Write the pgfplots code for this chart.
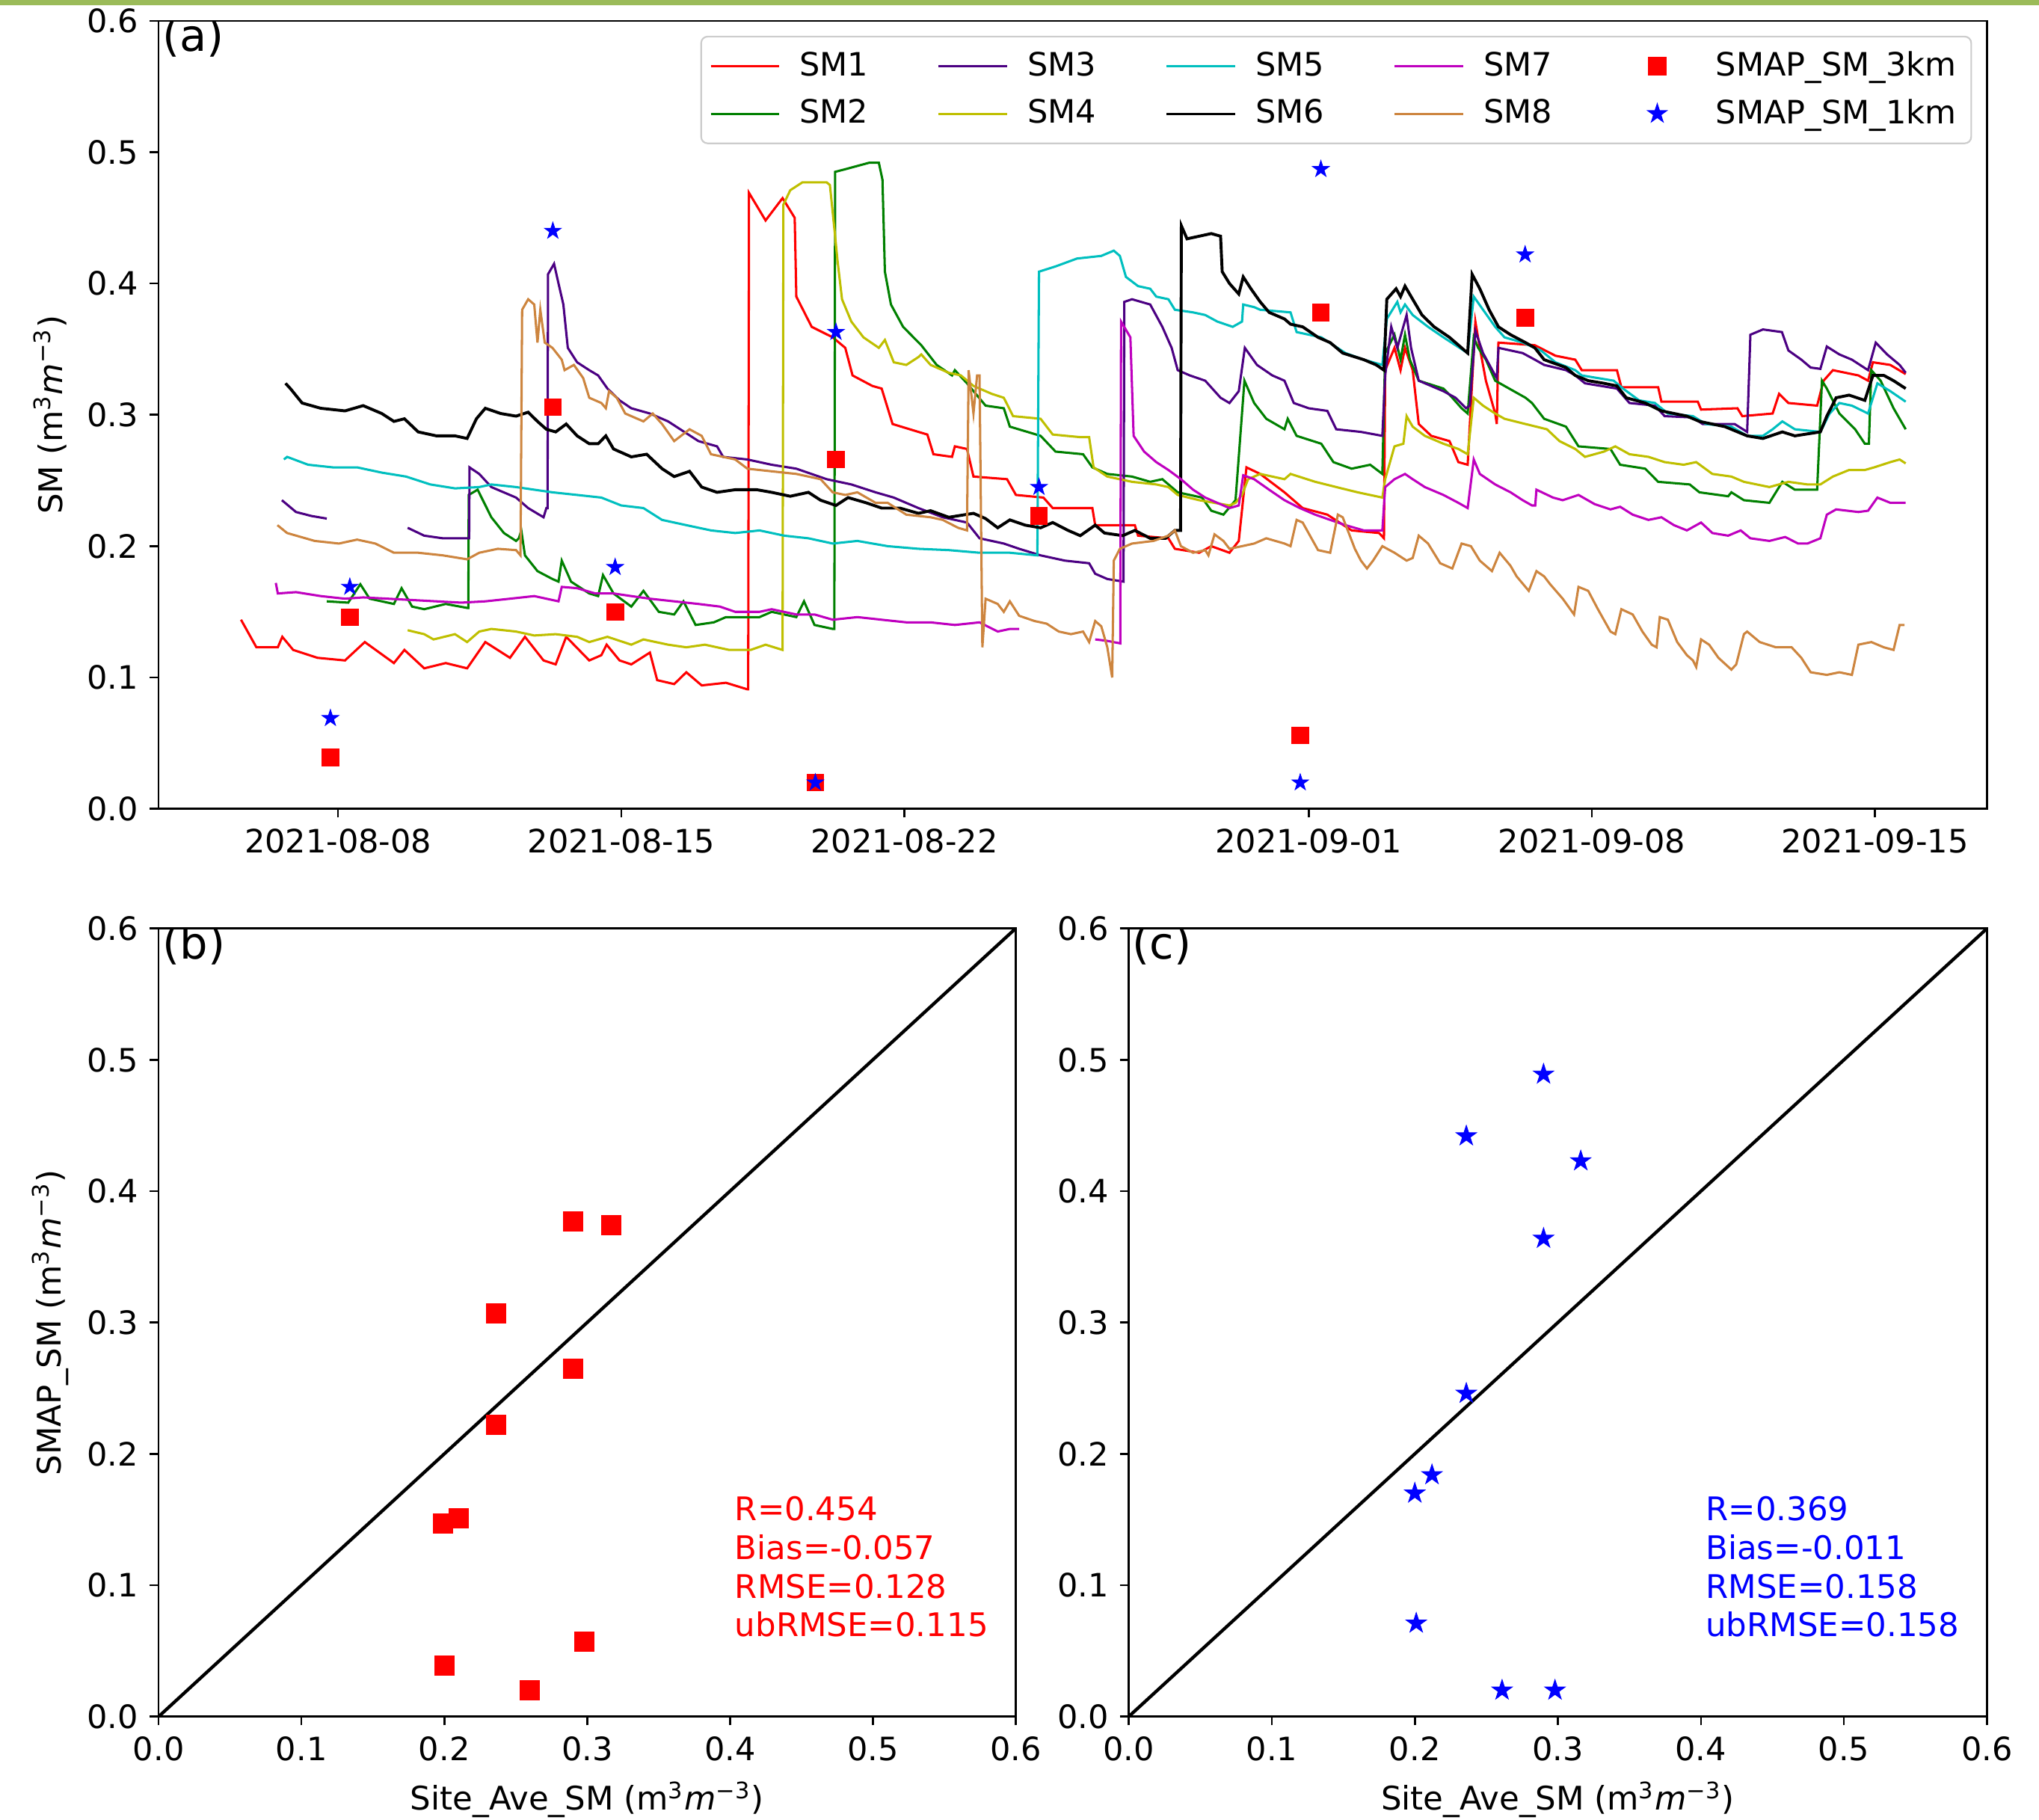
\documentclass[border=0pt]{standalone}
\usepackage{pgfplots}
\pgfplotsset{compat=1.18}
\usepackage{fontspec}
\setmainfont{DejaVu Sans}
\definecolor{mpg}{rgb}{0,0.5,0}
\definecolor{mpy}{rgb}{0.75,0.75,0}
\definecolor{mpc}{rgb}{0,0.75,0.75}
\definecolor{mpm}{rgb}{0.75,0,0.75}
\definecolor{indigo}{rgb}{0.294,0,0.51}
\definecolor{peru}{rgb}{0.804,0.522,0.247}
\definecolor{topbar}{RGB}{155,187,89}
\definecolor{legedge}{RGB}{204,204,204}

\pgfdeclareplotmark{fstar}{%
  \pgfpathmoveto{\pgfpointpolar{90}{\pgfplotmarksize}}%
  \pgfpathlineto{\pgfpointpolar{126}{0.382\pgfplotmarksize}}%
  \pgfpathlineto{\pgfpointpolar{162}{\pgfplotmarksize}}%
  \pgfpathlineto{\pgfpointpolar{198}{0.382\pgfplotmarksize}}%
  \pgfpathlineto{\pgfpointpolar{234}{\pgfplotmarksize}}%
  \pgfpathlineto{\pgfpointpolar{270}{0.382\pgfplotmarksize}}%
  \pgfpathlineto{\pgfpointpolar{306}{\pgfplotmarksize}}%
  \pgfpathlineto{\pgfpointpolar{342}{0.382\pgfplotmarksize}}%
  \pgfpathlineto{\pgfpointpolar{18}{\pgfplotmarksize}}%
  \pgfpathlineto{\pgfpointpolar{54}{0.382\pgfplotmarksize}}%
  \pgfpathclose
  \pgfusepathqfillstroke
}

\pgfplotsset{
  myaxis/.style={
    scale only axis, anchor=south west,
    axis line style={line width=0.6pt},
    tick align=outside, xtick pos=bottom, ytick pos=left,
    major tick length=2.7pt,
    every tick/.style={black, line width=0.6pt},
    tick label style={font=\fontsize{9.9}{11.8}\selectfont},
    label style={font=\fontsize{12.2}{14.6}\selectfont},
    ymin=0, ymax=0.6,
    ytick={0,0.1,0.2,0.3,0.4,0.5,0.6},
    yticklabels={0.0,0.1,0.2,0.3,0.4,0.5,0.6},
  },
  mylinelegend/.style={legend image code/.code={\draw[##1] (0pt,0pt) -- (21pt,0pt);}},
  mymarklegend/.style={legend image code/.code={\path[draw=none,fill=none] (0pt,-1pt) rectangle (23pt,1pt);\draw[##1] plot coordinates {(11pt,0pt)};}},
  sm/.style={line width=0.7pt, forget plot},
}

\begin{document}
\begin{tikzpicture}
\useasboundingbox (0,0) rectangle (627.2pt,559.6pt);
\fill[topbar] (0pt,557.9pt) rectangle (627.2pt,559.6pt);

% ---------------- (a) ----------------
\begin{axis}[myaxis,
  at={(48.8pt,310.8pt)}, width=562.4pt, height=242.4pt,
  xmin=2.563, xmax=47.77,
  xtick={7,14,21,31,38,45},
  xticklabels={2021-08-08,2021-08-15,2021-08-22,2021-09-01,2021-09-08,2021-09-15},
  unbounded coords=jump,
  every axis y label/.style={at={(axis description cs:-0.0526,0.5)}, rotate=90, anchor=base},
  ylabel={SM (m\textsuperscript{3}\textit{m}\textsuperscript{−3})},
  legend columns=5,
  legend cell align=left,
  legend style={at={(1,1)}, anchor=north east, xshift=-4.6pt, yshift=-4.6pt,
    draw=legedge, line width=0.5pt, rounded corners=2pt, fill=white,
    font=\fontsize{9.9}{11.8}\selectfont, inner sep=2.6pt, row sep=1.6pt,
    /tikz/every odd column/.append style={column sep=4pt},
    /tikz/every even column/.append style={column sep=19.3pt}},
]
% SM1
\addplot[sm, red] coordinates {
(4.60,0.144)(4.98,0.123)(5.51,0.123)(5.62,0.131)(5.89,0.121)(6.49,0.115)(7.17,0.113)(7.66,0.127)(8.38,0.111)(8.64,0.121)(9.13,0.107)(9.66,0.111)(10.19,0.107)(10.64,0.127)(11.25,0.115)(11.62,0.131)(12.08,0.113)(12.38,0.110)(12.64,0.131)(13.21,0.113)(13.51,0.117)(13.64,0.125)(13.96,0.113)
(14.25,0.110)(14.71,0.119)(14.89,0.098)(15.31,0.095)(15.61,0.104)(15.99,0.094)(16.59,0.096)(17.12,0.091)(17.14,0.091)(17.16,0.469)(17.57,0.448)(17.99,0.465)(18.29,0.450)(18.33,0.390)(18.71,0.367)(19.23,0.359)(19.54,0.351)(19.72,0.330)(20.21,0.322)(20.44,0.320)(20.71,0.293)(21.35,0.287)(21.57,0.285)(21.72,0.270)(22.18,0.268)(22.25,0.276)(22.55,0.274)(22.71,0.253)(23.54,0.251)(23.76,0.239)(24.44,0.237)(24.67,0.229)
(25.65,0.229)(25.72,0.216)(26.70,0.216)(26.78,0.208)(27.53,0.206)(27.69,0.198)(28.29,0.195)(28.59,0.200)(29.04,0.195)(29.27,0.204)(29.46,0.260)(29.80,0.255)(30.40,0.241)(30.85,0.229)(31.46,0.224)(32.06,0.212)(32.74,0.210)(32.86,0.206)(32.89,0.334)(33.12,0.351)(33.27,0.334)(33.38,0.351)(33.57,0.334)(33.72,0.293)(34.03,0.284)(34.48,0.280)(34.70,0.264)(34.93,0.262)(35.12,0.371)(35.23,0.351)(35.38,0.326)(35.61,0.301)(35.65,0.293)(35.69,0.355)(36.59,0.353)
(37.10,0.345)(37.59,0.342)(37.75,0.334)(38.62,0.334)(38.73,0.321)(39.64,0.321)(39.72,0.310)(40.62,0.310)(40.70,0.304)(41.60,0.305)(41.72,0.299)(42.47,0.301)(42.63,0.316)(42.86,0.309)(43.57,0.307)(43.73,0.326)(43.96,0.334)(44.59,0.330)(44.83,0.326)(44.95,0.340)(45.38,0.338)(45.76,0.331)
};
% SM2
\addplot[sm, mpg] coordinates {
(6.72,0.158)(7.25,0.157)(7.55,0.171)(7.78,0.160)(8.38,0.156)(8.57,0.168)(8.83,0.154)(9.13,0.152)(9.66,0.156)(10.19,0.153)(10.22,0.153)(10.23,0.239)(10.45,0.243)(10.79,0.222)(11.10,0.210)(11.40,0.204)(11.47,0.206)(11.53,0.212)(11.62,0.193)(11.93,0.181)(12.30,0.175)(12.45,0.173)(12.53,0.189)(12.76,0.173)(13.21,0.164)(13.43,0.162)(13.55,0.178)(13.81,0.164)
(14.25,0.154)(14.55,0.166)(14.93,0.150)(15.31,0.148)(15.54,0.158)(15.84,0.140)(16.29,0.142)(16.59,0.146)(17.42,0.146)(17.72,0.150)(18.33,0.146)(18.52,0.158)(18.78,0.140)(19.23,0.137)(19.27,0.137)(19.29,0.485)(19.54,0.487)(20.14,0.492)(20.37,0.492)(20.46,0.479)(20.52,0.409)(20.67,0.384)(20.97,0.367)(21.42,0.353)(21.80,0.338)(22.18,0.330)(22.25,0.334)(22.55,0.324)(23.01,0.307)(23.46,0.305)(23.61,0.291)(24.37,0.284)(24.74,0.272)(25.42,0.270)
(25.65,0.260)(26.02,0.255)(26.63,0.253)(27.08,0.249)(27.38,0.251)(27.76,0.241)(28.36,0.237)(28.59,0.227)(28.89,0.224)(29.19,0.235)(29.41,0.326)(29.65,0.309)(29.95,0.297)(30.40,0.289)(30.48,0.297)(30.70,0.284)(31.31,0.278)(31.61,0.264)(32.06,0.259)(32.52,0.262)(32.82,0.255)(32.89,0.347)(33.12,0.361)(33.27,0.342)(33.38,0.361)(33.50,0.342)(33.72,0.326)(34.33,0.320)(34.55,0.313)(34.78,0.305)(34.93,0.301)(35.08,0.359)(35.19,0.351)(35.38,0.342)(35.61,0.326)(35.84,0.322)(36.36,0.313)(36.52,0.309)(36.82,0.297)
(37.36,0.291)(37.67,0.276)(38.46,0.274)(38.70,0.262)(39.32,0.259)(39.64,0.249)(40.42,0.247)(40.66,0.241)(41.37,0.238)(41.45,0.241)(41.76,0.235)(42.39,0.233)(42.71,0.249)(43.02,0.243)(43.57,0.243)(43.69,0.326)(43.81,0.320)(44.12,0.301)(44.51,0.289)(44.75,0.278)(44.85,0.278)(44.91,0.334)(45.14,0.326)(45.46,0.305)(45.76,0.289)
};
% SM3
\addplot[sm, indigo] coordinates {
(5.61,0.235)(5.96,0.226)(6.34,0.223)(6.72,0.221)(7.70,nan)(8.72,0.214)(9.13,0.208)(9.59,0.206)(10.19,0.206)(10.24,0.206)(10.25,0.260)(10.49,0.255)(10.79,0.245)(11.40,0.237)(11.70,0.229)(12.08,0.222)(12.15,0.229)(12.18,0.229)(12.19,0.407)(12.34,0.415)(12.45,0.400)(12.57,0.384)(12.68,0.351)(12.91,0.340)(13.21,0.334)(13.43,0.330)(13.66,0.320)(13.96,0.311)
(14.25,0.305)(14.71,0.301)(15.16,0.295)(15.46,0.289)(15.91,0.280)(16.37,0.276)(16.52,0.268)(17.12,0.266)(17.72,0.262)(18.33,0.259)(19.08,0.251)(19.69,0.247)(20.29,0.241)(20.74,0.237)(21.35,0.229)(21.95,0.222)(22.55,0.218)(22.86,0.206)(23.46,0.202)(23.84,0.198)(24.37,0.193)(24.97,0.189)(25.57,0.187)
(25.72,0.179)(26.02,0.175)(26.42,0.173)(26.44,0.386)(26.63,0.388)(27.08,0.384)(27.38,0.367)(27.61,0.351)(27.76,0.334)(28.06,0.330)(28.44,0.326)(28.82,0.313)(29.04,0.309)(29.27,0.318)(29.42,0.351)(29.72,0.338)(30.10,0.330)(30.40,0.326)(30.63,0.309)(31.00,0.305)(31.46,0.303)(31.68,0.289)(32.29,0.287)(32.82,0.284)(32.89,0.330)(33.04,0.367)(33.19,0.351)(33.42,0.376)(33.53,0.351)(33.72,0.326)(34.33,0.318)(34.63,0.313)(34.89,0.305)(34.98,0.307)(35.12,0.364)(35.31,0.347)(35.61,0.330)(35.65,0.328)(35.69,0.351)(36.29,0.347)(36.59,0.342)(36.82,0.338)
(37.36,0.334)(37.59,0.330)(37.83,0.324)(38.62,0.320)(38.93,0.309)(39.56,0.307)(39.80,0.299)(40.50,0.298)(40.74,0.293)(41.53,0.293)(41.84,0.287)(41.92,0.361)(42.23,0.365)(42.70,0.363)(42.86,0.349)(43.18,0.342)(43.41,0.336)(43.65,0.335)(43.81,0.352)(44.12,0.346)(44.43,0.342)(44.83,0.334)(45.02,0.355)(45.30,0.346)(45.61,0.338)(45.76,0.332)
};
% SM4
\addplot[sm, mpy] coordinates {
(8.72,0.136)(9.13,0.133)(9.36,0.129)(9.89,0.133)(10.19,0.127)(10.49,0.135)(10.79,0.137)(11.40,0.135)(11.85,0.132)(12.38,0.133)(12.91,0.131)(13.21,0.127)(13.66,0.131)
(14.25,0.125)(14.55,0.129)(15.16,0.125)(15.61,0.123)(16.07,0.125)(16.67,0.121)(17.20,0.121)(17.57,0.125)(17.99,0.121)(18.01,0.460)(18.18,0.471)(18.48,0.477)(19.08,0.477)(19.16,0.475)(19.27,0.442)(19.35,0.417)(19.46,0.388)(19.69,0.371)(19.99,0.359)(20.37,0.351)(20.52,0.357)(20.74,0.340)(21.05,0.338)(21.35,0.344)(21.42,0.346)(21.65,0.338)(22.10,0.332)(22.40,0.330)(22.71,0.322)(23.16,0.316)(23.46,0.313)(23.69,0.299)(24.37,0.297)(24.67,0.285)(25.35,0.283)
(25.57,0.283)(25.68,0.260)(26.02,0.253)(26.63,0.249)(27.23,0.247)(27.53,0.245)(27.76,0.239)(28.29,0.235)(29.04,0.231)(29.19,0.233)(29.35,0.239)(29.50,0.251)(29.80,0.255)(30.40,0.251)(30.55,0.255)(31.16,0.249)(31.68,0.245)(32.21,0.241)(32.82,0.237)(32.89,0.251)(33.12,0.276)(33.34,0.278)(33.42,0.299)(33.57,0.291)(33.87,0.284)(34.33,0.278)(34.70,0.274)(34.93,0.270)(35.08,0.313)(35.31,0.307)(35.61,0.301)(35.84,0.297)(36.36,0.293)(36.89,0.289)
(37.20,0.280)(37.59,0.274)(37.83,0.268)(38.30,0.272)(38.58,0.276)(38.93,0.270)(39.40,0.268)(39.80,0.264)(40.27,0.262)(40.58,0.264)(40.98,0.255)(41.45,0.253)(41.76,0.249)(42.39,0.245)(42.86,0.249)(43.33,0.247)(43.65,0.247)(43.96,0.253)(44.36,0.258)(44.75,0.258)(44.98,0.260)(45.38,0.264)(45.61,0.266)(45.76,0.263)
};
% SM5
\addplot[sm, mpc] coordinates {
(5.66,0.266)(5.74,0.268)(6.26,0.262)(6.87,0.260)(7.47,0.260)(8.08,0.256)(8.68,0.253)(9.28,0.247)(9.89,0.244)(10.49,0.245)(10.79,0.247)(11.40,0.245)(11.85,0.243)(12.30,0.241)(12.91,0.239)(13.51,0.237)(14.00,0.231)
(14.55,0.229)(15.01,0.220)(15.61,0.216)(16.22,0.212)(16.82,0.210)(17.42,0.212)(18.03,0.208)(18.63,0.206)(19.23,0.202)(19.84,0.204)(20.59,0.200)(21.35,0.198)(22.10,0.197)(22.86,0.195)(23.61,0.195)(24.29,0.193)(24.33,0.409)(24.74,0.413)(25.27,0.419)
(25.87,0.421)(26.18,0.425)(26.33,0.421)(26.48,0.405)(26.78,0.398)(27.08,0.396)(27.23,0.390)(27.53,0.388)(27.69,0.380)(28.14,0.378)(28.44,0.376)(28.74,0.371)(29.12,0.367)(29.35,0.371)(29.38,0.384)(29.65,0.382)(29.80,0.380)(30.55,0.378)(30.70,0.363)(31.31,0.359)(31.61,0.353)(31.91,0.347)(32.36,0.342)(32.82,0.338)(32.93,0.373)(33.19,0.386)(33.27,0.378)(33.38,0.384)(33.57,0.376)(33.95,0.367)(34.33,0.359)(34.63,0.353)(34.93,0.347)(35.08,0.390)(35.31,0.380)(35.61,0.367)(35.84,0.359)(36.29,0.355)(36.74,0.349)
(37.10,0.340)(37.59,0.334)(37.75,0.330)(38.54,0.326)(38.77,0.320)(39.17,0.311)(39.56,0.309)(39.88,0.301)(40.50,0.299)(40.82,0.293)(41.45,0.291)(41.84,0.284)(42.23,0.284)(42.47,0.289)(42.71,0.295)(43.02,0.289)(43.65,0.287)(43.88,0.301)(44.12,0.309)(44.43,0.307)(44.83,0.301)(45.06,0.324)(45.38,0.318)(45.76,0.310)
};
% SM6
\addplot[sm, black, line width=0.9pt] coordinates {
(5.70,0.324)(5.82,0.320)(6.11,0.309)(6.57,0.305)(7.17,0.303)(7.62,0.307)(8.08,0.301)(8.38,0.295)(8.64,0.297)(8.98,0.287)(9.43,0.284)(9.89,0.284)(10.19,0.282)(10.42,0.297)(10.64,0.305)(11.02,0.301)(11.40,0.299)(11.70,0.302)(11.93,0.295)(12.15,0.289)(12.38,0.287)(12.64,0.293)(12.91,0.284)(13.21,0.278)(13.43,0.278)(13.62,0.284)(13.81,0.274)
(14.25,0.268)(14.63,0.270)(15.01,0.259)(15.31,0.253)(15.69,0.257)(15.99,0.245)(16.37,0.241)(16.82,0.243)(17.35,0.243)(17.72,0.241)(18.18,0.238)(18.63,0.241)(18.93,0.235)(19.31,0.231)(19.61,0.237)(20.06,0.233)(20.44,0.229)(20.89,0.229)(21.35,0.225)(21.65,0.227)(22.10,0.222)(22.71,0.225)(23.01,0.221)(23.31,0.214)(23.61,0.220)(23.99,0.216)(24.37,0.214)(24.67,0.218)(25.05,0.212)(25.35,0.208)
(25.72,0.216)(25.95,0.210)(26.40,0.208)(26.70,0.212)(27.08,0.206)(27.46,0.206)(27.69,0.212)(27.83,0.212)(27.85,0.444)(27.99,0.434)(28.29,0.436)(28.59,0.438)(28.82,0.436)(28.86,0.409)(29.04,0.400)(29.27,0.392)(29.38,0.405)(29.57,0.396)(29.80,0.386)(30.02,0.378)(30.40,0.373)(30.55,0.369)(30.85,0.367)(31.23,0.359)(31.53,0.355)(31.84,0.347)(32.36,0.342)(32.67,0.338)(32.86,0.334)(32.93,0.388)(33.16,0.396)(33.27,0.390)(33.38,0.398)(33.57,0.388)(33.80,0.376)(34.10,0.367)(34.48,0.359)(34.78,0.351)(34.93,0.347)(35.04,0.407)(35.23,0.396)(35.46,0.380)(35.69,0.367)(35.99,0.361)(36.36,0.355)(36.59,0.351)(36.82,0.342)
(37.36,0.336)(37.59,0.330)(37.91,0.326)(38.30,0.324)(38.62,0.322)(38.85,0.313)(39.32,0.309)(39.72,0.303)(40.35,0.299)(40.66,0.295)(41.29,0.291)(41.84,0.284)(42.23,0.282)(42.71,0.287)(43.02,0.284)(43.65,0.287)(43.81,0.299)(44.04,0.313)(44.36,0.315)(44.75,0.311)(44.95,0.330)(45.22,0.330)(45.46,0.326)(45.76,0.320)
};
% SM7
\addplot[sm, mpm] coordinates {
(5.46,0.172)(5.51,0.164)(5.96,0.165)(6.57,0.162)(7.17,0.160)(7.62,0.161)(8.23,0.160)(8.83,0.159)(9.43,0.158)(10.04,0.157)(10.64,0.158)(11.25,0.160)(11.85,0.162)(12.45,0.158)(12.53,0.169)(12.91,0.168)(13.36,0.164)(13.81,0.164)
(14.25,0.162)(14.71,0.160)(15.31,0.158)(15.91,0.156)(16.44,0.154)(16.82,0.150)(17.42,0.150)(17.72,0.152)(18.33,0.148)(18.78,0.148)(19.23,0.144)(19.84,0.146)(20.44,0.144)(21.05,0.142)(21.65,0.142)(22.25,0.140)(22.86,0.142)(23.31,0.135)(23.61,0.137)(23.84,0.137)(24.80,nan)
(25.72,0.129)(26.00,0.128)(26.34,0.126)(26.36,0.371)(26.59,0.359)(26.67,0.284)(26.93,0.272)(27.23,0.264)(27.53,0.258)(27.84,0.251)(28.14,0.243)(28.44,0.237)(28.74,0.233)(29.04,0.229)(29.27,0.231)(29.38,0.254)(29.65,0.251)(30.02,0.243)(30.40,0.235)(30.78,0.229)(31.16,0.224)(31.53,0.220)(31.91,0.216)(32.36,0.212)(32.82,0.212)(32.89,0.245)(33.12,0.251)(33.38,0.255)(33.57,0.251)(33.87,0.245)(34.33,0.239)(34.70,0.233)(34.93,0.229)(35.08,0.266)(35.23,0.255)(35.61,0.247)(35.99,0.241)(36.29,0.235)(36.52,0.231)(36.60,0.231)(36.63,0.243)
(37.04,0.237)(37.28,0.235)(37.67,0.239)(38.07,0.232)(38.46,0.228)(38.70,0.230)(39.01,0.224)(39.40,0.220)(39.72,0.222)(40.03,0.216)(40.35,0.212)(40.70,0.218)(40.98,0.210)(41.37,0.208)(41.68,0.212)(41.92,0.206)(42.39,0.204)(42.78,0.207)(43.10,0.202)(43.33,0.202)(43.65,0.206)(43.81,0.224)(44.04,0.228)(44.59,0.226)(44.83,0.227)(45.06,0.237)(45.38,0.233)(45.76,0.233)
};
% SM8
\addplot[sm, peru] coordinates {
(5.50,0.216)(5.74,0.210)(6.42,0.204)(7.02,0.202)(7.47,0.205)(7.92,0.202)(8.38,0.195)(8.98,0.195)(9.59,0.193)(10.19,0.190)(10.49,0.195)(10.95,0.198)(11.40,0.197)(11.51,0.193)(11.55,0.380)(11.70,0.388)(11.85,0.384)(11.93,0.355)(12.00,0.380)(12.11,0.355)(12.30,0.351)(12.53,0.342)(12.60,0.334)(12.83,0.338)(13.06,0.328)(13.21,0.313)(13.51,0.309)(13.62,0.305)(13.70,0.318)(13.89,0.313)(14.10,0.301)
(14.55,0.295)(14.78,0.301)(15.01,0.293)(15.31,0.280)(15.69,0.289)(15.99,0.284)(16.22,0.270)(16.82,0.266)(17.12,0.259)(17.72,0.257)(18.33,0.255)(18.93,0.251)(19.23,0.241)(19.54,0.239)(19.84,0.241)(20.29,0.233)(20.59,0.233)(21.05,0.224)(21.65,0.222)(21.95,0.220)(22.33,0.214)(22.55,0.212)(22.59,0.334)(22.71,0.301)(22.80,0.330)(22.86,0.330)(22.93,0.123)(23.01,0.160)(23.31,0.156)(23.46,0.150)(23.61,0.158)(23.84,0.147)(24.22,0.143)(24.52,0.141)(24.82,0.135)(25.12,0.133)(25.42,0.135)
(25.57,0.127)(25.72,0.143)(25.87,0.139)(26.02,0.123)(26.14,0.100)(26.18,0.189)(26.33,0.198)(26.63,0.202)(27.16,0.204)(27.53,0.208)(27.69,0.212)(27.84,0.200)(28.14,0.195)(28.44,0.197)(28.52,0.193)(28.67,0.209)(28.89,0.204)(29.04,0.198)(29.35,0.200)(29.65,0.202)(29.95,0.206)(30.40,0.202)(30.55,0.200)(30.70,0.220)(30.85,0.218)(31.23,0.197)(31.53,0.195)(31.72,0.224)(31.84,0.222)(32.14,0.198)(32.29,0.189)(32.44,0.183)(32.59,0.189)(32.82,0.200)(33.12,0.195)(33.42,0.189)(33.57,0.191)(33.72,0.208)(33.95,0.202)(34.25,0.187)(34.55,0.183)(34.78,0.202)(35.01,0.200)(35.23,0.189)(35.53,0.181)(35.72,0.195)(35.99,0.185)(36.14,0.177)(36.44,0.166)(36.63,0.181)(36.82,0.177)
(36.97,0.171)(37.28,0.160)(37.56,0.148)(37.67,0.169)(37.91,0.166)(38.15,0.152)(38.46,0.135)(38.58,0.133)(38.73,0.152)(39.01,0.148)(39.25,0.135)(39.48,0.125)(39.60,0.123)(39.68,0.146)(39.88,0.144)(40.11,0.127)(40.35,0.117)(40.50,0.113)(40.58,0.108)(40.70,0.129)(40.90,0.125)(41.13,0.115)(41.45,0.106)(41.57,0.110)(41.76,0.133)(41.84,0.135)(42.15,0.127)(42.55,0.123)(42.94,0.123)(43.18,0.115)(43.41,0.104)(43.81,0.102)(44.12,0.104)(44.43,0.102)(44.59,0.125)(44.91,0.127)(45.22,0.123)(45.46,0.121)(45.61,0.140)(45.73,0.140)
};
% SMAP 3 km
\addplot[forget plot, only marks, mark=square*, red, mark size=2.6pt, mark options={line width=0.2pt}] coordinates {
(6.81,0.039)(7.29,0.146)(12.31,0.306)(13.85,0.150)(18.80,0.020)(19.31,0.266)(24.33,0.223)(30.79,0.056)(31.30,0.378)(36.35,0.374)
};
% SMAP 1 km
\addplot[forget plot, only marks, mark=fstar, blue, mark size=2.7pt, mark options={line width=0.2pt}] coordinates {
(6.81,0.069)(7.29,0.169)(12.31,0.440)(13.85,0.184)(18.80,0.020)(19.31,0.363)(24.33,0.245)(30.79,0.020)(31.30,0.487)(36.35,0.422)
};
\addlegendimage{mylinelegend, red, line width=0.7pt}\addlegendentry{SM1}
\addlegendimage{mylinelegend, indigo, line width=0.7pt}\addlegendentry{SM3}
\addlegendimage{mylinelegend, mpc, line width=0.7pt}\addlegendentry{SM5}
\addlegendimage{mylinelegend, mpm, line width=0.7pt}\addlegendentry{SM7}
\addlegendimage{mymarklegend, only marks, mark=square*, red, mark size=2.6pt}\addlegendentry{SMAP\_SM\_3km}
\addlegendimage{mylinelegend, mpg, line width=0.7pt}\addlegendentry{SM2}
\addlegendimage{mylinelegend, mpy, line width=0.7pt}\addlegendentry{SM4}
\addlegendimage{mylinelegend, black, line width=0.7pt}\addlegendentry{SM6}
\addlegendimage{mylinelegend, peru, line width=0.7pt}\addlegendentry{SM8}
\addlegendimage{mymarklegend, only marks, mark=fstar, blue, mark size=2.7pt}\addlegendentry{SMAP\_SM\_1km}
\node[anchor=north west, inner sep=0pt, font=\fontsize{13.6}{16}\selectfont, xshift=1pt, yshift=1.2pt] at (rel axis cs:0,1) {(a)};
\end{axis}

% ---------------- (b) ----------------
\begin{axis}[myaxis,
  at={(48.8pt,31.6pt)}, width=263.6pt, height=242.4pt,
  xmin=0, xmax=0.6,
  xtick={0,0.1,0.2,0.3,0.4,0.5,0.6},
  xticklabels={0.0,0.1,0.2,0.3,0.4,0.5,0.6},
  every axis y label/.style={at={(axis description cs:-0.1138,0.5)}, rotate=90, anchor=base},
  every axis x label/.style={at={(axis description cs:0.5,-0.1188)}, anchor=base},
  ylabel={SMAP\_SM (m\textsuperscript{3}\textit{m}\textsuperscript{−3})},
  xlabel={Site\_Ave\_SM (m\textsuperscript{3}\textit{m}\textsuperscript{−3})},
]
\addplot[black, line width=1pt] coordinates {(0,0)(0.6,0.6)};
\addplot[only marks, mark=square*, red, mark size=3pt, mark options={line width=0.2pt}] coordinates {
(0.200,0.039)(0.199,0.147)(0.210,0.151)(0.236,0.307)(0.236,0.222)(0.260,0.020)(0.290,0.265)(0.290,0.377)(0.298,0.057)(0.317,0.374)
};
\node[anchor=north west, inner sep=0pt, align=left, text=red, font=\fontsize{10}{11.9}\selectfont] at (axis cs:0.403,0.168) {R=0.454\\Bias=-0.057\\RMSE=0.128\\ubRMSE=0.115};
\node[anchor=north west, inner sep=0pt, font=\fontsize{13.6}{16}\selectfont, xshift=1pt, yshift=1.2pt] at (rel axis cs:0,1) {(b)};
\end{axis}

% ---------------- (c) ----------------
\begin{axis}[myaxis,
  at={(347.2pt,31.6pt)}, width=264pt, height=242.4pt,
  xmin=0, xmax=0.6,
  xtick={0,0.1,0.2,0.3,0.4,0.5,0.6},
  xticklabels={0.0,0.1,0.2,0.3,0.4,0.5,0.6},
  every axis x label/.style={at={(axis description cs:0.5,-0.1188)}, anchor=base},
  xlabel={Site\_Ave\_SM (m\textsuperscript{3}\textit{m}\textsuperscript{−3})},
]
\addplot[black, line width=1pt] coordinates {(0,0)(0.6,0.6)};
\addplot[only marks, mark=fstar, blue, mark size=3.3pt, mark options={line width=0.2pt}] coordinates {
(0.290,0.489)(0.236,0.442)(0.316,0.423)(0.290,0.364)(0.236,0.246)(0.212,0.184)(0.200,0.170)(0.201,0.071)(0.261,0.020)(0.298,0.020)
};
\node[anchor=north west, inner sep=0pt, align=left, text=blue, font=\fontsize{10}{11.9}\selectfont] at (axis cs:0.403,0.168) {R=0.369\\Bias=-0.011\\RMSE=0.158\\ubRMSE=0.158};
\node[anchor=north west, inner sep=0pt, font=\fontsize{13.6}{16}\selectfont, xshift=1pt, yshift=1.2pt] at (rel axis cs:0,1) {(c)};
\end{axis}
\end{tikzpicture}
\end{document}
